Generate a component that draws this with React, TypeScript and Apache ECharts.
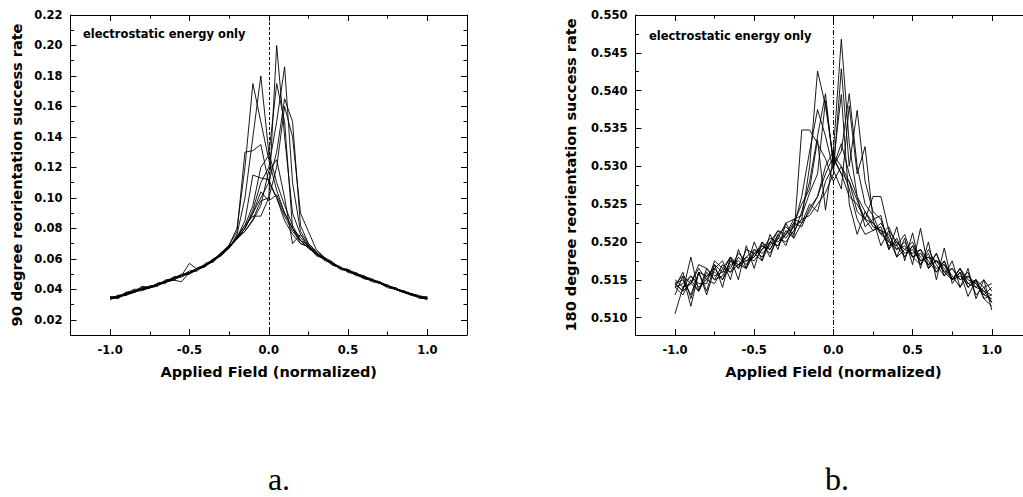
import React, { useEffect, useRef } from "react";
import * as echarts from "echarts";

const fieldValues = [-1.0,-0.95,-0.9,-0.85,-0.8,-0.75,-0.7,-0.65,-0.6,-0.55,-0.5,-0.45,-0.4,-0.35,-0.3,-0.25,-0.2,-0.15,-0.1,-0.05,0.0,0.05,0.1,0.15,0.2,0.25,0.3,0.35,0.4,0.45,0.5,0.55,0.6,0.65,0.7,0.75,0.8,0.85,0.9,0.95,1.0];

const rate90Run1 = [0.034,0.035,0.038,0.038,0.040,0.042,0.043,0.045,0.047,0.048,0.051,0.053,0.056,0.059,0.064,0.069,0.080,0.120,0.175,0.150,0.125,0.105,0.090,0.080,0.074,0.068,0.064,0.060,0.057,0.054,0.052,0.050,0.048,0.046,0.044,0.042,0.040,0.038,0.037,0.035,0.034];
const rate90Run2 = [0.035,0.035,0.036,0.039,0.039,0.041,0.044,0.045,0.046,0.049,0.052,0.053,0.055,0.060,0.062,0.067,0.076,0.100,0.140,0.180,0.130,0.110,0.095,0.082,0.072,0.067,0.063,0.061,0.056,0.054,0.053,0.050,0.047,0.046,0.045,0.042,0.041,0.038,0.036,0.035,0.033];
const rate90Run3 = [0.033,0.036,0.037,0.038,0.041,0.041,0.042,0.046,0.047,0.050,0.050,0.054,0.056,0.058,0.063,0.069,0.078,0.130,0.131,0.135,0.110,0.100,0.088,0.078,0.072,0.069,0.062,0.060,0.058,0.053,0.052,0.051,0.048,0.045,0.044,0.043,0.040,0.039,0.037,0.036,0.034];
const rate90Run4 = [0.034,0.034,0.037,0.040,0.040,0.042,0.043,0.044,0.048,0.049,0.051,0.052,0.057,0.059,0.062,0.068,0.074,0.085,0.115,0.113,0.112,0.100,0.085,0.076,0.070,0.068,0.064,0.059,0.057,0.055,0.051,0.050,0.049,0.046,0.044,0.042,0.040,0.039,0.036,0.035,0.035];
const rate90Run5 = [0.035,0.035,0.037,0.038,0.042,0.041,0.043,0.045,0.046,0.045,0.051,0.053,0.056,0.059,0.064,0.067,0.073,0.080,0.090,0.104,0.098,0.102,0.090,0.080,0.072,0.067,0.063,0.060,0.057,0.054,0.052,0.049,0.048,0.047,0.044,0.041,0.040,0.038,0.037,0.034,0.034];
const rate90Run6 = [0.034,0.036,0.036,0.038,0.040,0.041,0.043,0.046,0.047,0.049,0.057,0.053,0.055,0.059,0.063,0.068,0.074,0.082,0.088,0.088,0.100,0.200,0.140,0.090,0.076,0.068,0.063,0.060,0.057,0.054,0.052,0.050,0.048,0.046,0.044,0.042,0.040,0.038,0.037,0.035,0.034];
const rate90Run7 = [0.034,0.035,0.037,0.038,0.040,0.041,0.043,0.045,0.047,0.049,0.051,0.054,0.056,0.060,0.063,0.068,0.074,0.080,0.092,0.110,0.120,0.150,0.186,0.110,0.078,0.070,0.064,0.060,0.057,0.054,0.052,0.050,0.048,0.046,0.045,0.042,0.040,0.039,0.037,0.035,0.035];
const rate90Run8 = [0.035,0.034,0.038,0.039,0.041,0.042,0.043,0.045,0.046,0.049,0.050,0.053,0.056,0.058,0.063,0.067,0.075,0.082,0.095,0.120,0.128,0.175,0.150,0.080,0.070,0.068,0.063,0.060,0.056,0.054,0.052,0.050,0.047,0.046,0.044,0.042,0.041,0.038,0.037,0.035,0.034];
const rate90Run9 = [0.034,0.035,0.037,0.038,0.040,0.041,0.044,0.045,0.047,0.049,0.051,0.053,0.056,0.059,0.063,0.068,0.073,0.080,0.090,0.100,0.110,0.130,0.165,0.150,0.082,0.070,0.065,0.061,0.057,0.054,0.053,0.050,0.048,0.046,0.044,0.042,0.040,0.038,0.037,0.035,0.034];
const rate90Run10 = [0.034,0.035,0.037,0.039,0.040,0.041,0.043,0.045,0.048,0.049,0.051,0.053,0.055,0.059,0.064,0.068,0.074,0.078,0.086,0.098,0.100,0.120,0.160,0.140,0.090,0.078,0.066,0.061,0.058,0.054,0.052,0.050,0.048,0.046,0.044,0.042,0.040,0.038,0.037,0.035,0.034];
const rate90Run11 = [0.034,0.035,0.037,0.038,0.040,0.041,0.043,0.045,0.047,0.049,0.051,0.053,0.056,0.059,0.063,0.068,0.073,0.078,0.085,0.095,0.118,0.125,0.100,0.070,0.076,0.069,0.063,0.060,0.057,0.054,0.052,0.050,0.048,0.046,0.044,0.042,0.040,0.038,0.037,0.035,0.034];
const rate90Runs = [rate90Run1, rate90Run2, rate90Run3, rate90Run4, rate90Run5, rate90Run6, rate90Run7, rate90Run8, rate90Run9, rate90Run10, rate90Run11];

const rate180Run1 = [0.5145,0.5135,0.5180,0.5135,0.5165,0.5150,0.5170,0.5160,0.5180,0.5170,0.5185,0.5195,0.5185,0.5205,0.5200,0.5215,0.5230,0.5300,0.5426,0.5380,0.5310,0.5290,0.5260,0.5250,0.5230,0.5225,0.5210,0.5200,0.5190,0.5195,0.5180,0.5185,0.5170,0.5175,0.5160,0.5165,0.5150,0.5155,0.5140,0.5135,0.5120];
const rate180Run2 = [0.5140,0.5130,0.5150,0.5135,0.5160,0.5150,0.5155,0.5175,0.5165,0.5180,0.5175,0.5190,0.5200,0.5195,0.5210,0.5225,0.5220,0.5245,0.5260,0.5300,0.5320,0.5468,0.5330,0.5260,0.5240,0.5220,0.5215,0.5195,0.5200,0.5185,0.5190,0.5175,0.5180,0.5165,0.5170,0.5150,0.5160,0.5140,0.5150,0.5125,0.5130];
const rate180Run3 = [0.5145,0.5150,0.5130,0.5160,0.5155,0.5165,0.5150,0.5175,0.5170,0.5165,0.5190,0.5180,0.5200,0.5195,0.5215,0.5205,0.5348,0.5348,0.5330,0.5310,0.5280,0.5300,0.5280,0.5240,0.5230,0.5215,0.5220,0.5190,0.5205,0.5180,0.5195,0.5170,0.5185,0.5160,0.5175,0.5150,0.5165,0.5140,0.5150,0.5130,0.5140];
const rate180Run4 = [0.5105,0.5140,0.5155,0.5140,0.5150,0.5170,0.5160,0.5165,0.5185,0.5175,0.5180,0.5200,0.5190,0.5210,0.5220,0.5210,0.5240,0.5280,0.5340,0.5396,0.5300,0.5330,0.5290,0.5260,0.5220,0.5230,0.5195,0.5215,0.5180,0.5205,0.5170,0.5218,0.5165,0.5185,0.5155,0.5175,0.5140,0.5165,0.5125,0.5150,0.5110];
const rate180Run5 = [0.5140,0.5160,0.5125,0.5160,0.5130,0.5165,0.5175,0.5150,0.5190,0.5165,0.5200,0.5175,0.5210,0.5190,0.5225,0.5205,0.5225,0.5250,0.5240,0.5280,0.5300,0.5320,0.5396,0.5300,0.5250,0.5235,0.5210,0.5220,0.5195,0.5180,0.5195,0.5180,0.5170,0.5185,0.5160,0.5150,0.5165,0.5145,0.5150,0.5140,0.5120];
const rate180Run6 = [0.5145,0.5135,0.5145,0.5165,0.5150,0.5145,0.5165,0.5180,0.5170,0.5180,0.5190,0.5185,0.5195,0.5215,0.5205,0.5220,0.5230,0.5235,0.5250,0.5265,0.5290,0.5429,0.5300,0.5374,0.5280,0.5240,0.5230,0.5200,0.5195,0.5210,0.5180,0.5170,0.5190,0.5170,0.5155,0.5165,0.5150,0.5160,0.5130,0.5140,0.5145];
const rate180Run7 = [0.5130,0.5155,0.5115,0.5160,0.5135,0.5170,0.5140,0.5180,0.5150,0.5195,0.5165,0.5200,0.5180,0.5210,0.5195,0.5225,0.5250,0.5270,0.5335,0.5242,0.5315,0.5300,0.5270,0.5230,0.5210,0.5215,0.5225,0.5205,0.5180,0.5190,0.5200,0.5175,0.5180,0.5175,0.5165,0.5150,0.5165,0.5150,0.5145,0.5130,0.5125];
const rate180Run8 = [0.5150,0.5140,0.5145,0.5135,0.5155,0.5160,0.5150,0.5170,0.5175,0.5165,0.5185,0.5190,0.5205,0.5200,0.5210,0.5230,0.5225,0.5240,0.5260,0.5290,0.5313,0.5290,0.5280,0.5255,0.5230,0.5260,0.5260,0.5215,0.5200,0.5190,0.5185,0.5190,0.5165,0.5175,0.5170,0.5155,0.5140,0.5155,0.5145,0.5135,0.5130];
const rate180Run9 = [0.5145,0.5155,0.5145,0.5170,0.5165,0.5155,0.5160,0.5180,0.5165,0.5190,0.5185,0.5175,0.5200,0.5215,0.5210,0.5220,0.5260,0.5320,0.5375,0.5340,0.5295,0.5270,0.5380,0.5290,0.5326,0.5230,0.5235,0.5190,0.5220,0.5175,0.5212,0.5165,0.5200,0.5150,0.5192,0.5145,0.5160,0.5128,0.5150,0.5125,0.5115];
const rate180Run10 = [0.5140,0.5145,0.5155,0.5145,0.5145,0.5175,0.5165,0.5160,0.5170,0.5175,0.5180,0.5195,0.5190,0.5205,0.5225,0.5230,0.5235,0.5265,0.5290,0.5387,0.5305,0.5395,0.5250,0.5210,0.5240,0.5225,0.5215,0.5210,0.5190,0.5200,0.5180,0.5190,0.5175,0.5160,0.5175,0.5150,0.5155,0.5145,0.5140,0.5150,0.5135];
const rate180Runs = [rate180Run1, rate180Run2, rate180Run3, rate180Run4, rate180Run5, rate180Run6, rate180Run7, rate180Run8, rate180Run9, rate180Run10];

const xMajorTicks = [-1.0, -0.5, 0.0, 0.5, 1.0];
const xMinorTicks = [-0.75, -0.25, 0.25, 0.75];
const y90MajorTicks = [0.02, 0.04, 0.06, 0.08, 0.10, 0.12, 0.14, 0.16, 0.18, 0.20, 0.22];
const y90MinorTicks = [0.03, 0.05, 0.07, 0.09, 0.11, 0.13, 0.15, 0.17, 0.19, 0.21];
const y180MajorTicks = [0.510, 0.515, 0.520, 0.525, 0.530, 0.535, 0.540, 0.545, 0.550];
const y180MinorTicks = [0.5125, 0.5175, 0.5225, 0.5275, 0.5325, 0.5375, 0.5425, 0.5475];

const X_RANGE = [-1.25, 1.25];
const Y90_RANGE = [0.01, 0.22];
const Y180_RANGE = [0.5077, 0.55];

const xTitle = "Applied Field (normalized)";
const y90Title = "90 degree reorientation success rate";
const y180Title = "180 degree reorientation success rate";
const noteText = "electrostatic energy only";

const FONT = "DejaVu Sans";
const BLACK = "#000";

function makeXAxes(gridIndex: number) {
  const base = { type: "value", gridIndex, min: X_RANGE[0], max: X_RANGE[1], splitLine: { show: false } };
  const line = { show: true, onZero: false, lineStyle: { color: BLACK, width: 1 } };
  const noLine = { show: false, onZero: false };
  return [
    {
      ...base, position: "bottom", axisLine: line,
      axisTick: { show: true, inside: true, length: 6, customValues: xMajorTicks, lineStyle: { color: BLACK, width: 1 } },
      axisLabel: { show: true, customValues: xMajorTicks, formatter: (v: number) => v.toFixed(1), margin: 9, color: BLACK, fontFamily: FONT, fontWeight: "bold", fontSize: 11.5 },
      name: xTitle, nameLocation: "middle", nameGap: 29,
      nameTextStyle: { color: BLACK, fontFamily: FONT, fontWeight: "bold", fontSize: 14.5 },
    },
    { ...base, position: "bottom", axisLine: noLine, axisTick: { show: true, inside: true, length: 3.5, customValues: xMinorTicks, lineStyle: { color: BLACK, width: 1 } }, axisLabel: { show: false } },
    { ...base, position: "top", axisLine: line, axisTick: { show: true, inside: true, length: 6, customValues: xMajorTicks, lineStyle: { color: BLACK, width: 1 } }, axisLabel: { show: false } },
    { ...base, position: "top", axisLine: noLine, axisTick: { show: true, inside: true, length: 3.5, customValues: xMinorTicks, lineStyle: { color: BLACK, width: 1 } }, axisLabel: { show: false } },
  ];
}

function makeYAxes(gridIndex: number, range: number[], major: number[], minor: number[], digits: number, title: string, gap: number) {
  const base = { type: "value", gridIndex, min: range[0], max: range[1], splitLine: { show: false } };
  const line = { show: true, onZero: false, lineStyle: { color: BLACK, width: 1 } };
  const noLine = { show: false, onZero: false };
  return [
    {
      ...base, position: "left", axisLine: line,
      axisTick: { show: true, inside: true, length: 6, customValues: major, lineStyle: { color: BLACK, width: 1 } },
      axisLabel: { show: true, customValues: major, formatter: (v: number) => v.toFixed(digits), margin: 8, color: BLACK, fontFamily: FONT, fontWeight: "bold", fontSize: 11.5 },
      name: title, nameLocation: "middle", nameGap: gap,
      nameTextStyle: { color: BLACK, fontFamily: FONT, fontWeight: "bold", fontSize: 14.5 },
    },
    { ...base, position: "left", axisLine: noLine, axisTick: { show: true, inside: true, length: 3.5, customValues: minor, lineStyle: { color: BLACK, width: 1 } }, axisLabel: { show: false } },
    { ...base, position: "right", axisLine: line, axisTick: { show: true, inside: true, length: 6, customValues: major, lineStyle: { color: BLACK, width: 1 } }, axisLabel: { show: false } },
    { ...base, position: "right", axisLine: noLine, axisTick: { show: true, inside: true, length: 3.5, customValues: minor, lineStyle: { color: BLACK, width: 1 } }, axisLabel: { show: false } },
  ];
}

function makeRunSeries(runs: number[][], axisIndex: number, zeroDash: number[]) {
  return runs.map((run, k) => ({
    type: "line",
    xAxisIndex: axisIndex,
    yAxisIndex: axisIndex,
    data: fieldValues.map((x, i) => [x, run[i]]),
    symbol: "none",
    showSymbol: false,
    silent: true,
    clip: true,
    lineStyle: { color: BLACK, width: 0.9 },
    z: 2,
    markLine: k === 0 ? {
      symbol: "none",
      silent: true,
      label: { show: false },
      lineStyle: { color: BLACK, width: 1, type: zeroDash },
      data: [{ xAxis: 0 }],
    } : undefined,
  }));
}

export default function App() {
  const ref = useRef<HTMLDivElement>(null);
  useEffect(() => {
    if (!ref.current) return;
    const chart = echarts.init(ref.current, undefined, { renderer: "svg" });
    chart.setOption({
      animation: false,
      backgroundColor: "#fff",
      grid: [
        { left: 70.5, top: 15, width: 396.5, height: 320, outerBoundsMode: "none", containLabel: false },
        { left: 635.4, top: 15, width: 396, height: 320, outerBoundsMode: "none", containLabel: false },
      ],
      xAxis: [...makeXAxes(0), ...makeXAxes(1)],
      yAxis: [
        ...makeYAxes(0, Y90_RANGE, y90MajorTicks, y90MinorTicks, 2, y90Title, 46),
        ...makeYAxes(1, Y180_RANGE, y180MajorTicks, y180MinorTicks, 3, y180Title, 57),
      ],
      series: [
        ...makeRunSeries(rate90Runs, 0, [3, 2]),
        ...makeRunSeries(rate180Runs, 4, [5, 2, 1, 2]),
      ],
      graphic: [
        { type: "text", left: 83, top: 28, style: { text: noteText, fill: BLACK, font: `bold 11.5px "${FONT}"` } },
        { type: "text", left: 649, top: 30, style: { text: noteText, fill: BLACK, font: `bold 11.5px "${FONT}"` } },
        { type: "text", x: 279, y: 479, style: { text: "a.", fill: BLACK, font: `32px "Liberation Serif"`, align: "center", verticalAlign: "middle" } },
        { type: "text", x: 837, y: 479, style: { text: "b.", fill: BLACK, font: `32px "Liberation Serif"`, align: "center", verticalAlign: "middle" } },
      ],
    });
    return () => chart.dispose();
  }, []);
  return <div ref={ref} style={{ position: "absolute", left: 0, top: 0, width: 1023, height: 497, background: "#fff" }} />;
}
